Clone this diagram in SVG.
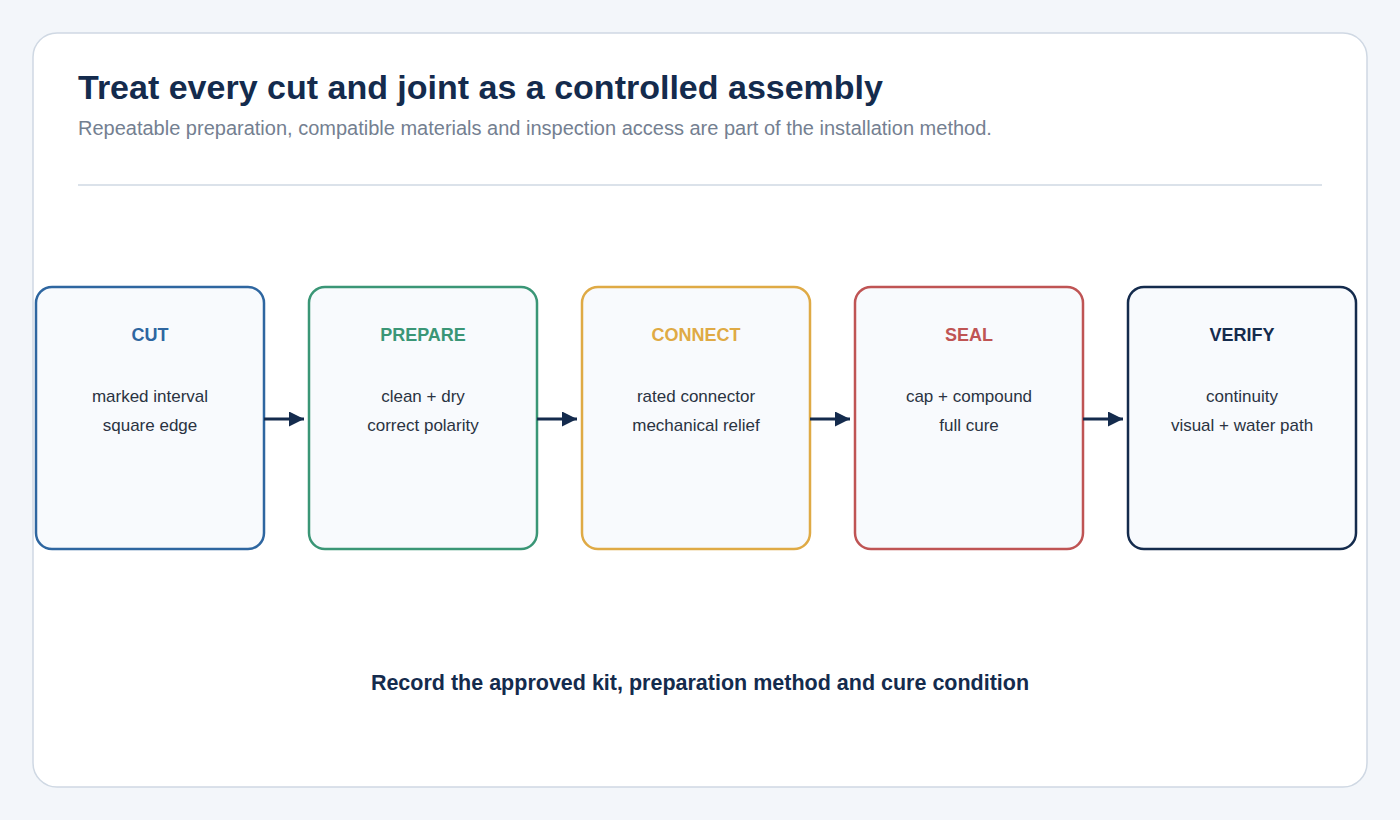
<svg xmlns="http://www.w3.org/2000/svg" width="1400" height="820" viewBox="0 0 1400 820">
<defs>
<marker id="ah" viewBox="0 0 10 10" refX="10" refY="5" markerWidth="5" markerHeight="5" markerUnits="strokeWidth" orient="auto"><path d="M0,0L10,5L0,10z" fill="#142b4d"/></marker>
<style>
text{font-family:"Liberation Sans",Arial,sans-serif}
.box{fill:#f8fafd;stroke-width:2.5}
.t{font-size:18px;font-weight:bold;text-anchor:middle}
.b{font-size:17px;fill:#2a3342;text-anchor:middle}
.c line{stroke:#142b4d;stroke-width:3;marker-end:url(#ah)}
</style>
</defs>
<rect width="1400" height="820" fill="#f3f6fa"/>
<rect x="33" y="33" width="1334" height="754" rx="24" fill="#fff" stroke="#cfd8e3" stroke-width="1.5"/>
<text x="78" y="99" font-size="34" font-weight="bold" fill="#142b4d">Treat every cut and joint as a controlled assembly</text>
<text x="78" y="135" font-size="20" fill="#748091">Repeatable preparation, compatible materials and inspection access are part of the installation method.</text>
<line x1="78" y1="185" x2="1322" y2="185" stroke="#cfd8e3" stroke-width="1.5"/>
<g id="cut"><rect class="box" x="36" y="287" width="228" height="262" rx="16" stroke="#2e66a0"/><text class="t" x="150" y="341" fill="#2e66a0">CUT</text><text class="b" x="150" y="402">marked interval</text><text class="b" x="150" y="431">square edge</text></g>
<g id="prepare"><rect class="box" x="309" y="287" width="228" height="262" rx="16" stroke="#3a9676"/><text class="t" x="423" y="341" fill="#3a9676">PREPARE</text><text class="b" x="423" y="402">clean + dry</text><text class="b" x="423" y="431">correct polarity</text></g>
<g id="connect"><rect class="box" x="582" y="287" width="228" height="262" rx="16" stroke="#dfaa45"/><text class="t" x="696" y="341" fill="#dfaa45">CONNECT</text><text class="b" x="696" y="402">rated connector</text><text class="b" x="696" y="431">mechanical relief</text></g>
<g id="seal"><rect class="box" x="855" y="287" width="228" height="262" rx="16" stroke="#bf5454"/><text class="t" x="969" y="341" fill="#bf5454">SEAL</text><text class="b" x="969" y="402">cap + compound</text><text class="b" x="969" y="431">full cure</text></g>
<g id="verify"><rect class="box" x="1128" y="287" width="228" height="262" rx="16" stroke="#142b4d"/><text class="t" x="1242" y="341" fill="#142b4d">VERIFY</text><text class="b" x="1242" y="402">continuity</text><text class="b" x="1242" y="431">visual + water path</text></g>
<g class="c">
<line x1="264" y1="419" x2="304" y2="419"/>
<line x1="537" y1="419" x2="577" y2="419"/>
<line x1="810" y1="419" x2="850" y2="419"/>
<line x1="1083" y1="419" x2="1123" y2="419"/>
</g>
<text x="700" y="690" font-size="21.5" font-weight="bold" fill="#142b4d" text-anchor="middle">Record the approved kit, preparation method and cure condition</text>
</svg>
